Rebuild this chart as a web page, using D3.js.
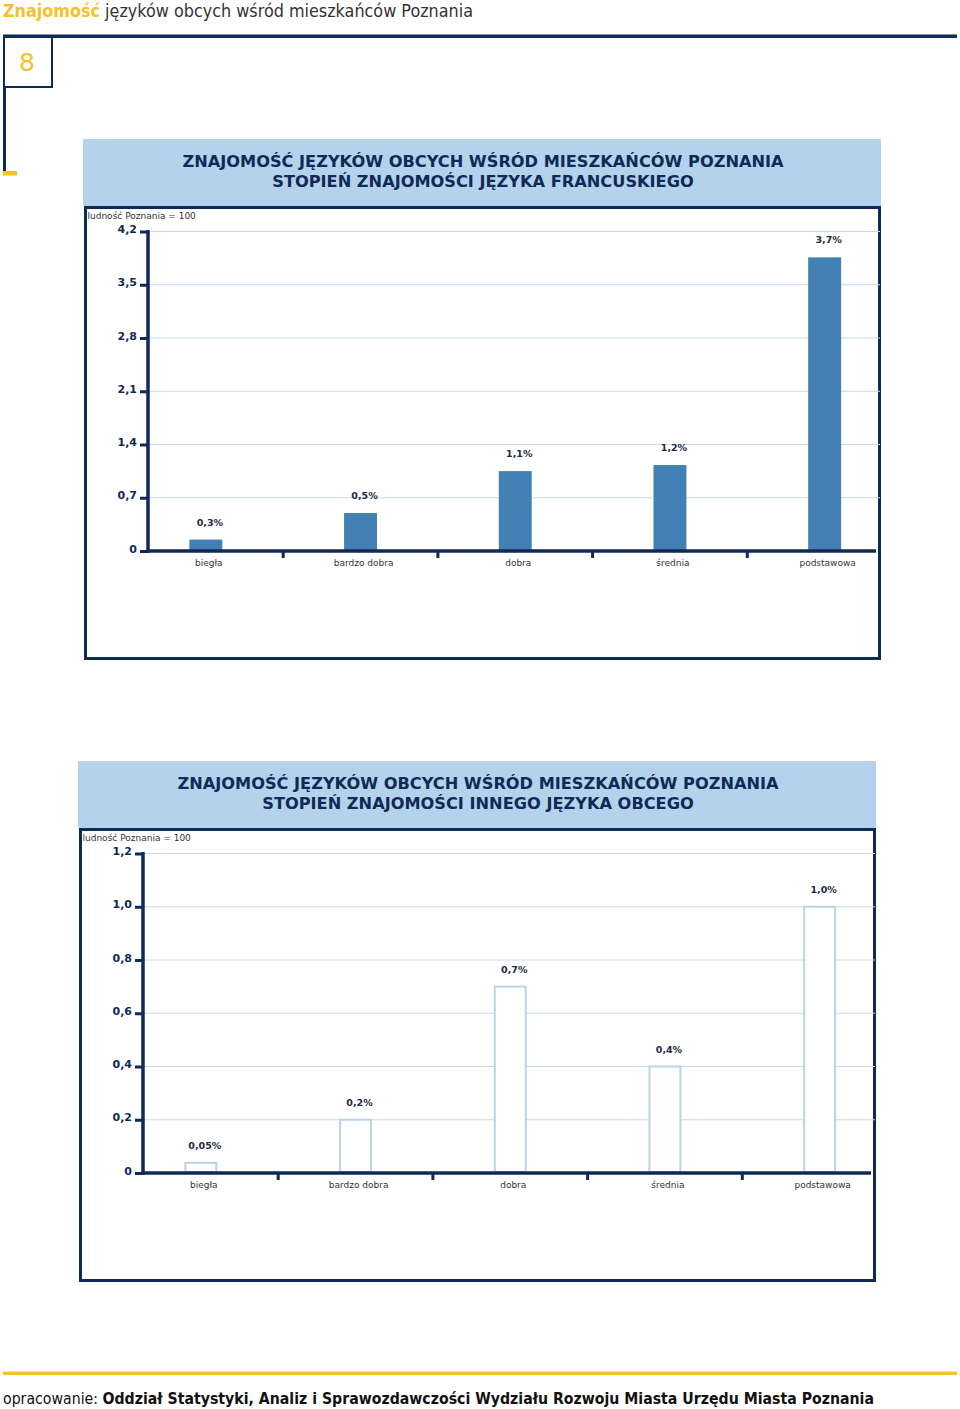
<!DOCTYPE html>
<html>
<head>
<meta charset="utf-8">
<script src="https://cdn.jsdelivr.net/npm/d3@7"></script>
<style>
  html, body { margin: 0; padding: 0; background: #fff; }
  svg { display: block; font-family: "DejaVu Sans", Verdana, sans-serif; }
</style>
</head>
<body>
<svg id="page" width="960" height="1409"></svg>
<script>
// ---- data ----
const categories = ["biegła", "bardzo dobra", "dobra", "średnia", "podstawowa"];

const frenchValues = [0.15, 0.5, 1.05, 1.13, 3.86];
const frenchLabels = ["0,3%", "0,5%", "1,1%", "1,2%", "3,7%"];
const frenchTicks = [0, 0.7, 1.4, 2.1, 2.8, 3.5, 4.2];
const frenchTickLabels = ["0", "0,7", "1,4", "2,1", "2,8", "3,5", "4,2"];
const frenchTitle = ["ZNAJOMOŚĆ JĘZYKÓW OBCYCH WŚRÓD MIESZKAŃCÓW POZNANIA", "STOPIEŃ ZNAJOMOŚCI JĘZYKA FRANCUSKIEGO"];

const otherValues = [0.038, 0.2, 0.7, 0.4, 1.0];
const otherLabels = ["0,05%", "0,2%", "0,7%", "0,4%", "1,0%"];
const otherTicks = [0, 0.2, 0.4, 0.6, 0.8, 1.0, 1.2];
const otherTickLabels = ["0", "0,2", "0,4", "0,6", "0,8", "1,0", "1,2"];
const otherTitle = ["ZNAJOMOŚĆ JĘZYKÓW OBCYCH WŚRÓD MIESZKAŃCÓW POZNANIA", "STOPIEŃ ZNAJOMOŚCI INNEGO JĘZYKA OBCEGO"];

const unitNote = "ludność Poznania = 100";

// ---- styles ----
const NAVY = "#0f2a57";
const YELLOW = "#f4c22b";
const HEAD_BG = "#b4d2eb";
const GRID = "#c9d8e7";
const TEXT = "#333333";

const svg = d3.select("#page");

// ---- page header ----
const ht = svg.append("text").attr("x", 3).attr("y", 17).attr("font-size", 17).attr("fill", TEXT)
  .attr("textLength", 470).attr("lengthAdjust", "spacingAndGlyphs");
ht.append("tspan").attr("fill", YELLOW).attr("font-weight", "bold").text("Znajomość");
ht.append("tspan").text(" języków obcych wśród mieszkańców Poznania");

svg.append("rect").attr("x", 3).attr("y", 34.5).attr("width", 954).attr("height", 3.5).attr("fill", NAVY);
svg.append("rect").attr("x", 3).attr("y", 36).attr("width", 3).attr("height", 136).attr("fill", NAVY);
svg.append("rect").attr("x", 4).attr("y", 37).attr("width", 48).attr("height", 50)
   .attr("fill", "#fff").attr("stroke", NAVY).attr("stroke-width", 2);
svg.append("text").attr("x", 27).attr("y", 71).attr("text-anchor", "middle")
   .attr("font-size", 25).attr("fill", YELLOW).text("8");
svg.append("rect").attr("x", 3).attr("y", 171).attr("width", 14).attr("height", 4.5).attr("fill", YELLOW);

// ---- chart drawer ----
function drawChart(cfg) {
  const g = svg.append("g").attr("transform", `translate(${cfg.dx},${cfg.dy})`);
  // header box
  g.append("rect").attr("x", 83).attr("y", 139).attr("width", 798).attr("height", 67).attr("fill", HEAD_BG);
  cfg.title.forEach((t, i) => {
    g.append("text").attr("x", 483).attr("y", 167 + i * 19.5).attr("text-anchor", "middle")
      .attr("font-size", 16.2).attr("font-weight", "bold").attr("fill", NAVY).text(t);
  });
  // frame
  g.append("rect").attr("x", 85.5).attr("y", 207.5).attr("width", 794).attr("height", 451)
    .attr("fill", "none").attr("stroke", NAVY).attr("stroke-width", 3);
  g.append("text").attr("x", 87.5).attr("y", 219).attr("font-size", 9).attr("fill", TEXT).text(unitNote);

  const x0 = 148, xEnd = 876, x1 = 880;
  const y = d3.scaleLinear().domain([0, cfg.ticks[cfg.ticks.length - 1]]).range([551, 231.5]);
  const x = d3.scaleBand().domain(categories).range([128.5, 902]).paddingInner(0.787).paddingOuter(0.3935);
  const step = x.step();

  // gridlines
  g.append("g").selectAll("line").data(cfg.ticks.slice(1)).join("line")
    .attr("x1", x0).attr("x2", x1).attr("y1", d => y(d)).attr("y2", d => y(d))
    .attr("stroke", GRID).attr("stroke-width", 1.2);

  // bars
  g.append("g").selectAll("rect").data(cfg.values).join("rect")
    .attr("x", (d, i) => x(categories[i]) + (cfg.outline ? 1 : 0))
    .attr("width", x.bandwidth() - (cfg.outline ? 2 : 0))
    .attr("y", d => y(d))
    .attr("height", d => y(0) - y(d) - (cfg.outline ? 1 : 0))
    .attr("fill", cfg.outline ? "#fff" : "#4380b4")
    .attr("stroke", cfg.outline ? "#bcd3e7" : "none")
    .attr("stroke-width", cfg.outline ? 2 : 0);

  // value labels
  g.append("g").selectAll("text").data(cfg.values).join("text")
    .attr("x", (d, i) => x(categories[i]) + x.bandwidth() / 2 + 4)
    .attr("y", d => y(d) - 14)
    .attr("text-anchor", "middle").attr("font-size", 9.5).attr("font-weight", "bold").attr("fill", "#1d2b45")
    .text((d, i) => cfg.labels[i]);

  // y axis
  const yAxis = d3.axisLeft(y).tickValues(cfg.ticks).tickSize(8).tickPadding(3)
    .tickFormat((d, i) => cfg.tickLabels[i]);
  const ya = g.append("g").attr("transform", `translate(${x0},0)`).call(yAxis);
  ya.select(".domain").remove();
  ya.selectAll(".tick line").attr("stroke", NAVY).attr("stroke-width", 3);
  ya.selectAll(".tick text").attr("font-size", 11).attr("font-weight", "bold").attr("fill", NAVY)
    .attr("font-family", "DejaVu Sans, sans-serif").attr("dy", "0.1em");
  g.append("line").attr("x1", x0).attr("x2", x0).attr("y1", y.range()[1] - 1.5).attr("y2", 553)
    .attr("stroke", NAVY).attr("stroke-width", 3.5);

  // x axis
  g.append("line").attr("x1", x0).attr("x2", xEnd).attr("y1", 551).attr("y2", 551)
    .attr("stroke", NAVY).attr("stroke-width", 3.5);
  g.append("g").selectAll("line").data(categories.slice(0, -1)).join("line")
    .attr("x1", d => x(d) + x.bandwidth() / 2 + step / 2)
    .attr("x2", d => x(d) + x.bandwidth() / 2 + step / 2)
    .attr("y1", 551).attr("y2", 558).attr("stroke", NAVY).attr("stroke-width", 3);
  g.append("g").selectAll("text").data(categories).join("text")
    .attr("x", d => x(d) + x.bandwidth() / 2 + 3).attr("y", 566)
    .attr("text-anchor", "middle").attr("font-size", 9).attr("fill", TEXT).text(d => d);
}

drawChart({ dx: 0, dy: 0, title: frenchTitle, values: frenchValues, labels: frenchLabels,
            ticks: frenchTicks, tickLabels: frenchTickLabels, outline: false });
drawChart({ dx: -5, dy: 622, title: otherTitle, values: otherValues, labels: otherLabels,
            ticks: otherTicks, tickLabels: otherTickLabels, outline: true });

// ---- footer ----
svg.append("rect").attr("x", 3).attr("y", 1371.5).attr("width", 954).attr("height", 3.5).attr("fill", YELLOW);
const ft = svg.append("text").attr("x", 3).attr("y", 1404).attr("font-size", 15).attr("fill", "#111")
  .attr("textLength", 871).attr("lengthAdjust", "spacingAndGlyphs");
ft.append("tspan").text("opracowanie: ");
ft.append("tspan").attr("font-weight", "bold").text("Oddział Statystyki, Analiz i Sprawozdawczości Wydziału Rozwoju Miasta Urzędu Miasta Poznania");
</script>
</body>
</html>
